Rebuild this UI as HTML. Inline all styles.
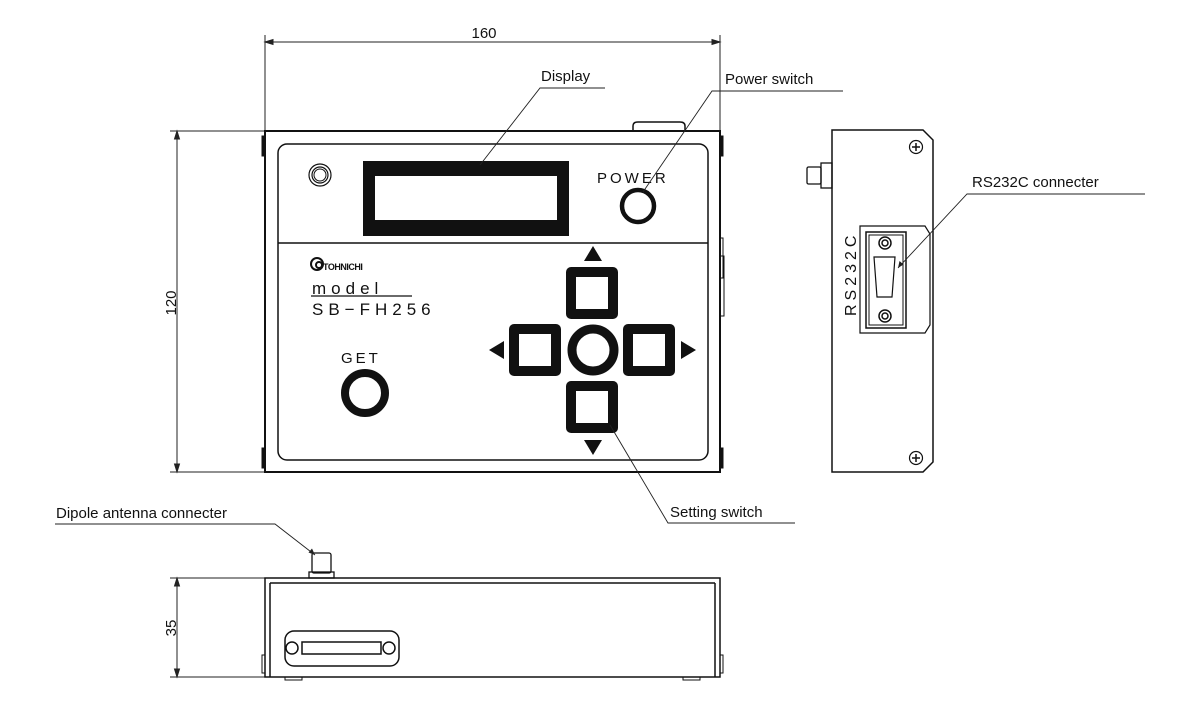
<!DOCTYPE html>
<html><head><meta charset="utf-8"><style>
body{margin:0;background:#fff}
svg{display:block;font-family:"Liberation Sans",sans-serif}
</style></head><body>
<svg width="1200" height="703" viewBox="0 0 1200 703" xmlns="http://www.w3.org/2000/svg">
<g stroke="#222" fill="none" stroke-width="1">
<!-- dimension 160 -->
<line x1="265" y1="35" x2="265" y2="131"/><line x1="720" y1="35" x2="720" y2="131"/>
<line x1="265" y1="42" x2="720" y2="42"/>
<path d="M265 42 l8 -2.5 v5z M720 42 l-8 -2.5 v5z" fill="#222"/>
<!-- dimension 120 -->
<line x1="170" y1="131" x2="265" y2="131"/><line x1="170" y1="472" x2="265" y2="472"/>
<line x1="177" y1="131" x2="177" y2="472"/>
<path d="M177 131 l-2.5 8 h5z M177 472 l-2.5 -8 h5z" fill="#222"/>
<!-- dimension 35 -->
<line x1="170" y1="578" x2="265" y2="578"/><line x1="170" y1="677" x2="265" y2="677"/>
<line x1="177" y1="578" x2="177" y2="677"/>
<path d="M177 578 l-2.5 8 h5z M177 677 l-2.5 -8 h5z" fill="#222"/>
</g>
<g font-size="15" fill="#111">
<text x="484" y="38" text-anchor="middle">160</text>
<text transform="translate(176,303) rotate(-90)" text-anchor="middle">120</text>
<text transform="translate(176,628) rotate(-90)" text-anchor="middle">35</text>
</g>
<!-- FRONT VIEW -->
<g stroke="#111" fill="none">
<path d="M633 131 v-5 q0 -4 5 -4 h42 q5 0 5 4 v5" stroke-width="1.5"/>
<rect x="265" y="131" width="455" height="341" stroke-width="2"/>
<rect x="262" y="136" width="3" height="20" fill="#111"/><rect x="262" y="448" width="3" height="20" fill="#111"/>
<rect x="720" y="136" width="3" height="20" fill="#111"/><rect x="720" y="448" width="3" height="20" fill="#111"/>
<rect x="720" y="238" width="3" height="40" stroke-width="1"/><rect x="720" y="256" width="4" height="60" stroke-width="1"/>
<rect x="278" y="144" width="430" height="316" rx="9" stroke-width="1.5"/>
<line x1="278" y1="243" x2="708" y2="243" stroke-width="1.5"/>
<circle cx="320" cy="175" r="11" stroke-width="1.2"/><circle cx="320" cy="175" r="8" stroke-width="1.2"/><circle cx="320" cy="175" r="6" stroke-width="1"/>
<rect x="363" y="161" width="206" height="75" fill="#111" stroke="none"/>
<rect x="375" y="176" width="182" height="44" fill="#fff" stroke="none"/>
<circle cx="638" cy="206" r="16" stroke-width="4.5"/>
<circle cx="365" cy="393" r="20" stroke-width="8"/>
<circle cx="593" cy="350" r="21" stroke-width="9"/>
</g>
<g fill="#111">
<rect x="566" y="267" width="52" height="52" rx="5"/><rect x="576" y="277" width="32" height="32" fill="#fff"/>
<rect x="566" y="381" width="52" height="52" rx="5"/><rect x="576" y="391" width="32" height="32" fill="#fff"/>
<rect x="509" y="324" width="52" height="52" rx="5"/><rect x="519" y="334" width="32" height="32" fill="#fff"/>
<rect x="623" y="324" width="52" height="52" rx="5"/><rect x="633" y="334" width="32" height="32" fill="#fff"/>
<path d="M593 246 l-9 15 h18z M593 455 l-9 -15 h18z M489 350 l15 -9 v18z M696 350 l-15 -9 v18z"/>
</g>
<g fill="#111" font-size="15" letter-spacing="3">
<text x="597" y="183">POWER</text>
<text x="341" y="363">GET</text>
<text x="312" y="294" font-size="17" letter-spacing="5">model</text>
<text x="312" y="315" font-size="17" letter-spacing="5">SB−FH256</text>
</g>
<line x1="311" y1="296" x2="412" y2="296" stroke="#111" stroke-width="1.2"/>
<g fill="none" stroke="#111" stroke-width="2"><circle cx="317" cy="264" r="6"/><circle cx="319" cy="265" r="3"/></g>
<text x="323" y="270" font-size="9" font-weight="bold" fill="#111" letter-spacing="-0.5">TOHNICHI</text>
<!-- SIDE VIEW -->
<g stroke="#111" fill="none" stroke-width="1.5">
<path d="M832 130 h91 l10 10 v322 l-10 10 h-91z"/>
<path d="M860 226 h65 l5 8 v91 l-5 8 h-65z" stroke-width="1.2"/>
<rect x="866" y="232" width="40" height="96" stroke-width="1.5"/>
<rect x="869" y="235" width="34" height="90" stroke-width="1"/>
<path d="M874 257 h21 l-3 40 h-15 z" stroke-width="1.2"/>
<circle cx="885" cy="243" r="6"/><circle cx="885" cy="243" r="3"/>
<circle cx="885" cy="316" r="6"/><circle cx="885" cy="316" r="3"/>
<circle cx="916" cy="147" r="6.5" stroke-width="1.2"/><path d="M916 143 v8 M912 147 h8" stroke-width="1.5"/>
<circle cx="916" cy="458" r="6.5" stroke-width="1.2"/><path d="M916 454 v8 M912 458 h8" stroke-width="1.5"/>
<rect x="807" y="167" width="14" height="17" rx="1.5" stroke-width="1.3"/>
<rect x="821" y="163" width="11" height="25" stroke-width="1.3"/>
</g>
<text transform="translate(856,316) rotate(-90)" font-size="16" letter-spacing="4" fill="#111">RS232C</text>
<!-- BOTTOM VIEW -->
<g stroke="#111" fill="none" stroke-width="1.5">
<rect x="265" y="578" width="455" height="99"/>
<line x1="270" y1="583" x2="715" y2="583"/>
<line x1="270" y1="583" x2="270" y2="677"/><line x1="715" y1="583" x2="715" y2="677"/>
<rect x="262" y="655" width="3" height="18" stroke-width="1"/><rect x="720" y="655" width="3" height="18" stroke-width="1"/>
<path d="M285 677 v3 h17 v-3 M683 677 v3 h17 v-3" stroke-width="1"/>
<rect x="285" y="631" width="114" height="35" rx="9"/>
<rect x="302" y="642" width="79" height="12"/>
<circle cx="292" cy="648" r="6"/><circle cx="389" cy="648" r="6"/>
<rect x="312" y="553" width="19" height="20" rx="2" stroke-width="1.3"/>
<rect x="309" y="572" width="25" height="6" stroke-width="1.3"/>
</g>
<!-- LEADERS -->
<g stroke="#222" stroke-width="0.9" fill="none">
<path d="M605 88 H540 L480 165"/>
<path d="M843 91 H712 L643 192"/>
<path d="M1145 194 H967 L898 268"/>
<path d="M795 523 H668 L610 425"/>
<path d="M55 524 H275 L315 555"/>
</g>
<path d="M898 268 l1.5 -7 l4 3.5z" fill="#222"/>
<path d="M315 555 l-6.5 -2.5 l3.5 -4z" fill="#222"/>
<g font-size="15" fill="#111">
<text x="541" y="81">Display</text>
<text x="725" y="84">Power switch</text>
<text x="972" y="187">RS232C connecter</text>
<text x="670" y="517">Setting switch</text>
<text x="56" y="518">Dipole antenna connecter</text>
</g>
</svg>
</body></html>
